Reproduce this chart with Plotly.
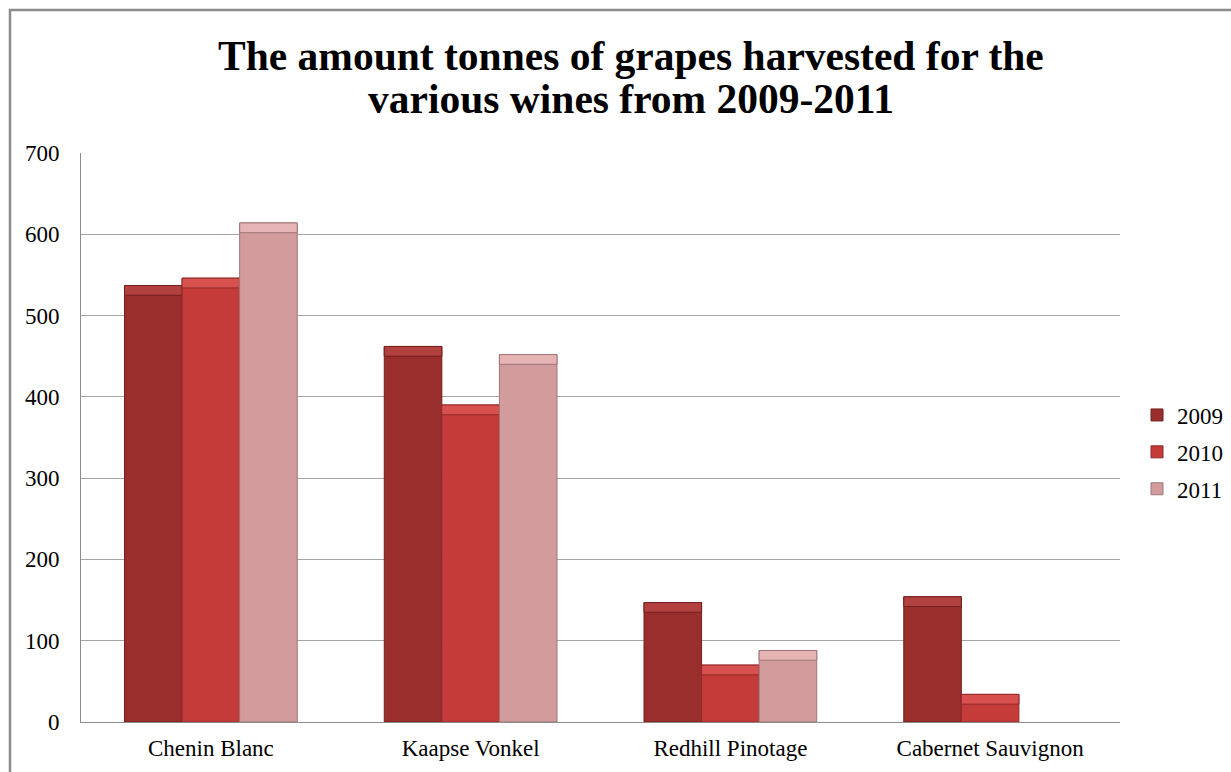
import plotly.graph_objects as go

# Harvest data (tonnes)
wines = ["Chenin Blanc", "Kaapse Vonkel", "Redhill Pinotage", "Cabernet Sauvignon"]
years = ["2009", "2010", "2011"]
tonnes_2009 = [537, 462, 147, 154]
tonnes_2010 = [546, 390, 70, 34]
tonnes_2011 = [614, 452, 88, 0]
y_ticks = [0, 100, 200, 300, 400, 500, 600, 700]

series = [tonnes_2009, tonnes_2010, tonnes_2011]
body_colors = ["#9A2E2C", "#C43B39", "#D29C9D"]
edge_colors = ["#72201F", "#902B2A", "#A07677"]
bevel_colors = ["#B2403E", "#D9514F", "#E6B4B5"]
BEVEL = 12  # height of the top highlight strip, in tonnes

W, H = 1231, 772
L, R, T, B = 81, 111, 153, 50
plot_w, plot_h = W - L - R, H - T - B


def px_to_paper_x(px):
    return (px - L) / plot_w


def px_to_paper_y(py):
    return (H - B - py) / plot_h


fig = go.Figure()
for year, vals, body, edge, bev in zip(years, series, body_colors, edge_colors, bevel_colors):
    fig.add_trace(go.Bar(
        x=wines, y=vals, name=year, offsetgroup=year, legendgroup=year,
        marker=dict(color=body,
                    line=dict(color=edge, width=[1 if v > 0 else 0 for v in vals])),
        hovertemplate="%{x}<br>" + year + ": %{y}<extra></extra>",
    ))
    # lighter strip along the top of each bar (skipped for empty bars)
    fig.add_trace(go.Bar(
        x=wines,
        y=[min(BEVEL, v) for v in vals],
        base=[max(v - BEVEL, 0) for v in vals],
        offsetgroup=year, legendgroup=year, showlegend=False, hoverinfo="skip",
        marker=dict(color=bev, line=dict(color=edge, width=[1 if v > 0 else 0 for v in vals])),
    ))

serif = "Liberation Serif, Times New Roman, serif"

fig.update_layout(
    width=W, height=H,
    margin=dict(l=L, r=R, t=T, b=B, pad=0, autoexpand=False),
    paper_bgcolor="white", plot_bgcolor="white",
    barmode="group", bargap=0.335, bargroupgap=0,
    font=dict(family=serif, size=23, color="#000000"),
    showlegend=True,
    legend=dict(
        x=px_to_paper_x(1137), y=px_to_paper_y(452), xanchor="left", yanchor="middle",
        font=dict(family=serif, size=23, color="#000000"),
        traceorder="grouped", tracegroupgap=4,
        bgcolor="rgba(0,0,0,0)", itemwidth=30,
    ),
    xaxis=dict(
        showgrid=False, showline=True, linecolor="#8C8C8C", linewidth=1,
        ticks="", ticklabelstandoff=5,
        tickfont=dict(family=serif, size=23, color="#000000"),
    ),
    yaxis=dict(
        range=[0, 700], tickvals=y_ticks, ticktext=[str(v) for v in y_ticks],
        showgrid=True, gridcolor="#A6A6A6", gridwidth=1,
        showline=True, linecolor="#8C8C8C", linewidth=1,
        zeroline=False, ticks="", ticklabelstandoff=16,
        tickfont=dict(family=serif, size=23, color="#000000"),
    ),
    annotations=[
        dict(text="<b>The amount tonnes of grapes harvested for the</b>",
             xref="paper", yref="paper", x=px_to_paper_x(631), y=px_to_paper_y(56),
             xanchor="center", yanchor="middle", showarrow=False,
             font=dict(family=serif, size=41.5, color="#000000")),
        dict(text="<b>various wines from 2009-2011</b>",
             xref="paper", yref="paper", x=px_to_paper_x(631), y=px_to_paper_y(99),
             xanchor="center", yanchor="middle", showarrow=False,
             font=dict(family=serif, size=41.5, color="#000000")),
    ],
    shapes=[
        # chart-area frame (top and left edges visible)
        dict(type="rect", xref="paper", yref="paper",
             x0=px_to_paper_x(10), x1=px_to_paper_x(1300),
             y0=px_to_paper_y(850), y1=px_to_paper_y(10),
             line=dict(color="#8C8C8C", width=2.5), fillcolor="rgba(0,0,0,0)",
             layer="above"),
    ],
)

fig.write_html("out.html")
